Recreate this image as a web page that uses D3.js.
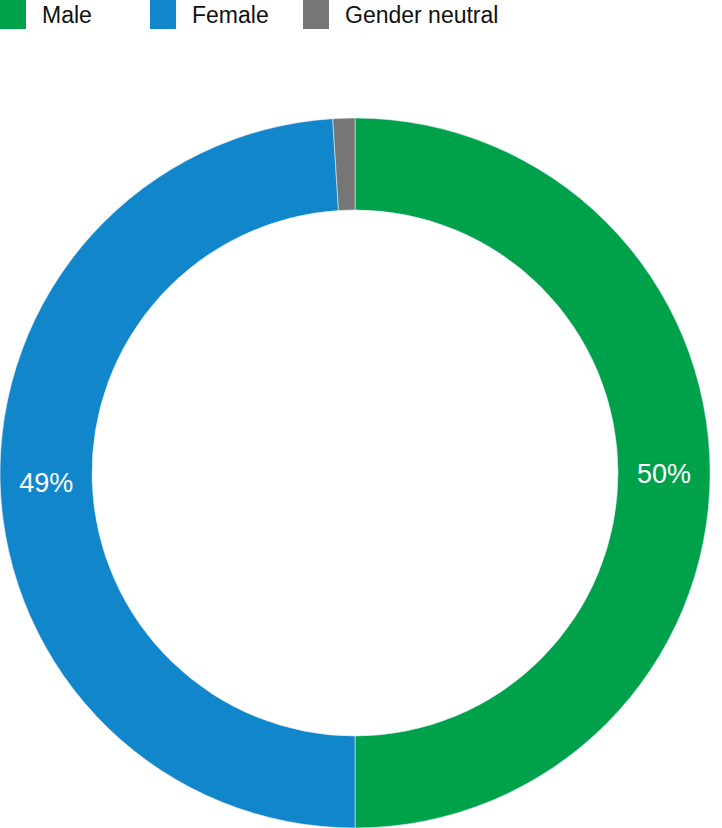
<!DOCTYPE html>
<html>
<head>
<meta charset="utf-8">
<script src="https://cdn.jsdelivr.net/npm/d3@7"></script>
<style>
  html, body { margin: 0; padding: 0; background: #fff; }
  svg { display: block; }
</style>
</head>
<body>
<svg id="chart" width="722" height="828"></svg>
<script>
const categories = ["Male", "Female", "Gender neutral"];
const values = [50, 49, 1];
const labels = ["50%", "49%", ""];
const colors = ["#00a14b", "#1286cb", "#767676"];

const svg = d3.select("#chart");
const font = "'Liberation Sans', Arial, sans-serif";

const cx = 355, cy = 473, outerR = 355, innerR = 263;

const pie = d3.pie().sort(null).value(d => d.value);
const data = categories.map((c, i) => ({ cat: c, value: values[i], label: labels[i], color: colors[i] }));
const arcs = pie(data);
const arc = d3.arc().innerRadius(innerR).outerRadius(outerR);

const g = svg.append("g").attr("transform", `translate(${cx},${cy})`);
g.selectAll("path.slice").data(arcs).enter().append("path")
  .attr("class", "slice")
  .attr("d", arc)
  .attr("fill", d => d.data.color)
  .attr("stroke", "#dfe9f0")
  .attr("stroke-width", 0.6);

g.selectAll("text.lbl").data(arcs.filter(d => d.data.label)).enter().append("text")
  .attr("class", "lbl")
  .attr("x", d => arc.centroid(d)[0])
  .attr("y", d => arc.centroid(d)[1])
  .attr("dy", "0.36em")
  .attr("text-anchor", "middle")
  .attr("fill", "#fff")
  .attr("font-family", font)
  .attr("font-size", 27)
  .text(d => d.data.label);

// Legend
const legendX = [0, 150, 303];
const lg = svg.append("g");
const items = lg.selectAll("g.item").data(data).enter().append("g")
  .attr("class", "item")
  .attr("transform", (d, i) => `translate(${legendX[i]},0)`);
items.append("rect")
  .attr("x", 0).attr("y", 0).attr("width", 26).attr("height", 29)
  .attr("fill", d => d.color);
items.append("text")
  .attr("x", 42).attr("y", 23)
  .attr("font-family", font)
  .attr("font-size", 23)
  .attr("fill", "#111")
  .text(d => d.cat);
</script>
</body>
</html>
